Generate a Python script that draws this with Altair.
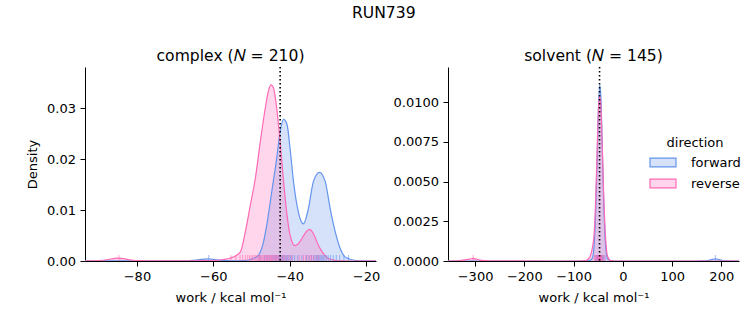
import altair as alt
import pandas as pd

FONT = "DejaVu Sans"
directions = ["forward", "reverse"]
line_colors = ["#6495ED", "#FF69B4"]
fill_colors = ["rgba(100,149,237,0.27)", "rgba(255,105,180,0.27)"]

# ---- complex panel: density curves ----
cx_fwd_x = [-93.6, -80.0, -68.0, -64.5, -62.5, -61.2, -60.0, -58.0, -55.0, -52.0, -50.3,
            -49.2, -48.1, -47.0, -46.0, -44.7, -43.4, -42.5, -41.6, -40.7, -39.9, -39.0,
            -38.1, -37.3, -36.4, -35.1, -33.8, -32.2, -30.7, -29.4, -28.1, -26.8, -25.5,
            -24.4, -23.0, -21.0, -17.4]
cx_fwd_d = [0.0, 0.00002, 0.00005, 0.00018, 0.00035, 0.0004, 0.00032, 0.00012, 0.00005, 0.0001, 0.0003,
            0.0006, 0.0012, 0.0033, 0.0071, 0.0136, 0.0202, 0.0254, 0.0278, 0.0268, 0.0221, 0.0156,
            0.0110, 0.0084, 0.0073, 0.0103, 0.0156, 0.0174, 0.0156, 0.0103, 0.0058, 0.0025, 0.0008,
            0.0004, 0.00015, 0.00003, 0.0]

cx_rev_x = [-93.6, -90.0, -87.5, -85.8, -84.7, -83.5, -81.5, -79.0, -75.0, -68.0, -62.0,
            -59.0, -57.4, -55.5, -54.0, -52.9, -51.6, -50.3, -49.0, -47.7, -46.4, -45.5,
            -44.9, -44.2, -43.4, -42.5, -41.6, -40.7, -39.9, -38.6, -37.3, -36.0, -34.8,
            -33.8, -32.5, -31.2, -29.9, -28.6, -26.5, -23.0, -17.4]
cx_rev_d = [0.00003, 0.0001, 0.0003, 0.0005, 0.00055, 0.00045, 0.0002, 0.00007, 0.00003, 0.00003, 0.00006,
            0.00015, 0.0003, 0.0006, 0.0011, 0.0018, 0.0058, 0.0110, 0.0162, 0.0234, 0.0300, 0.0336,
            0.0346, 0.0339, 0.0300, 0.0234, 0.0156, 0.0090, 0.0051, 0.0030, 0.0038, 0.0054, 0.0062,
            0.0054, 0.0031, 0.0015, 0.0005, 0.0002, 0.00005, 0.0, 0.0]

cx_fwd_rug = [-61.2, -47.8, -46.6, -45.9, -45.2, -44.6, -44.1, -43.7, -43.3, -42.9, -42.6, -42.3,
              -42.0, -41.8, -41.5, -41.2, -40.9, -40.6, -40.2, -39.8, -39.3, -38.7, -37.9, -36.8,
              -35.6, -34.9, -34.3, -33.8, -33.4, -33.0, -32.7, -32.4, -32.1, -31.8, -31.5, -31.2,
              -30.8, -30.4, -29.9, -29.3, -28.6, -27.8, -26.9, -25.8, -24.6]
cx_rev_rug = [-84.7, -55.4, -54.1, -53.0, -52.3, -51.6, -51.0, -50.5, -50.1, -49.7, -49.3, -48.9,
              -48.5, -48.2, -47.9, -47.6, -47.3, -47.0, -46.7, -46.4, -46.1, -45.9, -45.6, -45.4,
              -45.1, -44.9, -44.7, -44.4, -44.2, -43.9, -43.6, -43.4, -43.1, -42.8, -42.5, -42.1,
              -41.7, -41.3, -40.8, -40.2, -39.5, -37.5, -36.4, -35.8, -35.2, -34.7, -34.3, -33.8,
              -33.1, -32.4]

# ---- solvent panel ----
sv_fwd_x = [-355, -300, -150, -90, -76, -68, -62, -58, -55, -52, -49.5, -47, -44.5, -42, -39,
            -35, -31, -25, -18, 0, 150, 172, 182, 188, 194, 204, 236]
sv_fwd_d = [0.0, 0.0, 0.0, 0.0, 0.00001, 0.00003, 0.00016, 0.0011, 0.0032, 0.0066, 0.0096, 0.0111,
            0.0103, 0.0076, 0.0040, 0.0010, 0.00015, 0.00002, 0.0, 0.0, 0.0, 0.00003, 0.0001,
            0.00013, 0.0001, 0.00003, 0.0]

sv_rev_x = [-355, -330, -315, -308, -304, -299, -290, -270, -150, -90, -76, -68, -62, -58, -55,
            -52, -49.5, -47, -44.5, -42, -39, -35, -31, -25, -18, 0, 236]
sv_rev_d = [0.0, 0.00003, 0.0001, 0.00014, 0.00015, 0.00013, 0.00006, 0.00001, 0.0, 0.0, 0.00002,
            0.0002, 0.0008, 0.0018, 0.0040, 0.0071, 0.0095, 0.0104, 0.0097, 0.0075, 0.0044,
            0.0015, 0.0003, 0.00003, 0.0, 0.0, 0.0]

sv_fwd_rug = [188, -56, -53.5, -52, -50.8, -49.8, -49, -48.3, -47.7, -47.1, -46.5, -45.9, -45.3,
              -44.6, -43.8, -42.8, -41.3, -39, -36]
sv_rev_rug = [-304, -57.5, -55, -53.2, -51.8, -50.6, -49.7, -48.9, -48.2, -47.6, -47.0, -46.4,
              -45.8, -45.1, -44.3, -43.4, -42.2, -40.5, -37.8]

ref_complex = -42.5
ref_solvent = -47.2


def curves(fx, fd, rx, rd):
    return pd.DataFrame({
        "x": list(fx) + list(rx),
        "density": list(fd) + list(rd),
        "direction": ["forward"] * len(fx) + ["reverse"] * len(rx),
    })


def rugs(f, r):
    return pd.DataFrame({"x": list(f) + list(r),
                         "direction": ["forward"] * len(f) + ["reverse"] * len(r)})


W, H = 291, 194
FS = 13

legend = alt.Legend(
    title="direction", orient="none", legendX=564, legendY=70,
    titleAnchor="middle", titleFontWeight="normal", titleFontSize=FS, titleFont=FONT,
    labelFontSize=FS, labelFont=FONT, labelColor="black", titleColor="black",
    symbolType="M-1,-0.34L1,-0.34L1,0.34L-1,0.34Z", symbolSize=676,
    symbolStrokeWidth=1.2, symbolOpacity=1,
    clipHeight=13, rowPadding=7, titlePadding=6, labelOffset=14,
)
fill_enc = alt.Fill("direction:N", scale=alt.Scale(domain=directions, range=fill_colors),
                    legend=legend)
stroke_enc = alt.Stroke("direction:N", scale=alt.Scale(domain=directions, range=line_colors),
                        legend=legend)


def panel(cdf, rdf, ref, xdom, xticks, ydom, yticks, yfmt, ytitle, title):
    xs = alt.X("x:Q", scale=alt.Scale(domain=xdom, nice=False, zero=False),
               axis=alt.Axis(values=xticks, title="work / kcal mol⁻¹", format="d",
                             titlePadding=8))
    ys = alt.Y("density:Q", stack=None, scale=alt.Scale(domain=ydom, nice=False),
               axis=alt.Axis(values=yticks, format=yfmt, title=ytitle, titlePadding=7))
    area = alt.Chart(cdf).mark_area(interpolate="monotone", clip=True).encode(
        x=xs, y=ys, fill=fill_enc)
    line = alt.Chart(cdf).mark_line(strokeWidth=1.2, interpolate="monotone", clip=True).encode(
        x=xs, y=ys, stroke=stroke_enc)
    rug = alt.Chart(rdf).mark_rule(strokeWidth=1, strokeOpacity=0.6).encode(
        x=alt.X("x:Q"), y=alt.value(H - 6), y2=alt.value(H), stroke=stroke_enc)
    vline = alt.Chart(pd.DataFrame({"x": [ref]})).mark_rule(
        color="black", strokeDash=[1.5, 2.5], strokeWidth=1.6).encode(x=alt.X("x:Q"))
    return alt.layer(area, line, rug, vline).properties(
        width=W, height=H,
        title=alt.TitleParams(title, fontSize=15.6, fontWeight="normal", font=FONT,
                              color="black", offset=2))


left = panel(curves(cx_fwd_x, cx_fwd_d, cx_rev_x, cx_rev_d), rugs(cx_fwd_rug, cx_rev_rug),
             ref_complex, [-93.6, -17.4], [-80, -60, -40, -20], [0, 0.0381],
             [0, 0.01, 0.02, 0.03], ".2f", "Density", "complex (𝑁 = 210)")
right = panel(curves(sv_fwd_x, sv_fwd_d, sv_rev_x, sv_rev_d), rugs(sv_fwd_rug, sv_rev_rug),
              ref_solvent, [-355, 236], [-300, -200, -100, 0, 100, 200], [0, 0.01222],
              [0, 0.0025, 0.005, 0.0075, 0.01], ".4f", None, "solvent (𝑁 = 145)")

chart = alt.hconcat(left, right, spacing=13).resolve_scale(x="independent", y="independent").properties(
    title=alt.TitleParams("RUN739", fontSize=15.6, fontWeight="normal", font=FONT,
                          anchor="middle", color="black", offset=27),
    padding={"left": 26, "top": 6, "right": 5, "bottom": 5},
).configure_axis(
    labelFont=FONT, labelFontSize=FS, labelColor="black",
    titleFont=FONT, titleFontSize=FS, titleFontWeight="normal", titleColor="black",
    domainColor="black", tickColor="black", tickSize=5, grid=False,
    domainWidth=1, tickWidth=1, labelPadding=4.5,
).configure_view(stroke=None).configure_title(font=FONT)

chart.save("out.html", embed_options={"renderer": "svg", "actions": False})
